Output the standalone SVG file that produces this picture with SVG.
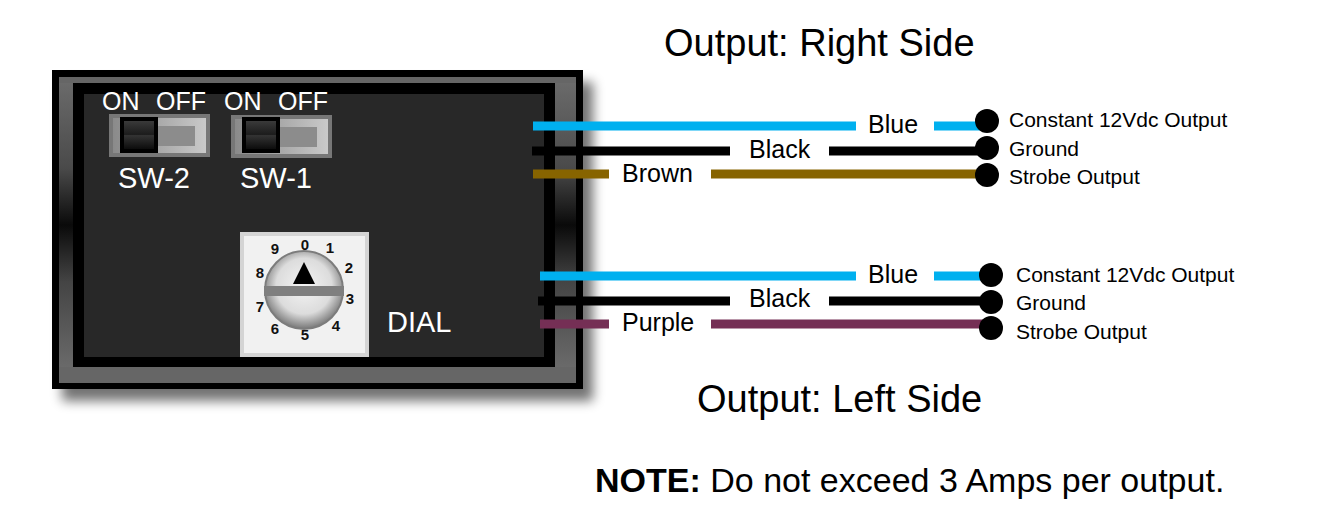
<svg xmlns="http://www.w3.org/2000/svg" width="1322" height="526" viewBox="0 0 1322 526">
<defs>
<style>
text{font-family:"Liberation Sans",Arial,sans-serif}
.w{fill:#fff}
.t{fill:#000}
.d{font-size:15px;font-weight:bold;fill:#111;text-anchor:middle}
.wire{fill:none;stroke-width:9}
</style>
<linearGradient id="ringL" x1="0" y1="0" x2="0" y2="1">
<stop offset="0" stop-color="#6a6a6a"/><stop offset=".3" stop-color="#4a4a4a"/><stop offset=".5" stop-color="#0a0a0a"/><stop offset=".7" stop-color="#444"/><stop offset="1" stop-color="#6a6a6a"/>
</linearGradient>
<linearGradient id="sw" x1="0" y1="0" x2="1" y2="0">
<stop offset="0" stop-color="#8a8a8a"/><stop offset="1" stop-color="#c9c9c9"/>
</linearGradient>
<linearGradient id="kn" x1="0" y1="0" x2="0" y2="1">
<stop offset="0" stop-color="#3a3a3a"/><stop offset=".48" stop-color="#1c1c1c"/><stop offset=".52" stop-color="#333"/><stop offset="1" stop-color="#0c0c0c"/>
</linearGradient>
<radialGradient id="ball" cx=".5" cy=".45" r=".55">
<stop offset="0" stop-color="#f4f4f4"/><stop offset=".65" stop-color="#dcdcdc"/><stop offset="1" stop-color="#777"/>
</radialGradient>
<filter id="blur" x="-10%" y="-10%" width="120%" height="120%"><feGaussianBlur stdDeviation="6"/></filter>
</defs>
<rect width="1322" height="526" fill="#fff"/>
<g id="enclosure">
<rect x="62" y="82" width="531" height="319" fill="#000" opacity=".55" filter="url(#blur)"/>
<rect x="52" y="70" width="531" height="319" fill="#000"/>
<rect x="59" y="77" width="517" height="306" fill="#666"/>
<rect x="59" y="83" width="14" height="284" fill="url(#ringL)"/>
<rect x="555" y="83" width="21" height="284" fill="url(#ringL)"/>
<rect x="73" y="83" width="482" height="284" fill="#000"/>
<rect x="84" y="94" width="460" height="263" fill="#282828"/>
</g>
<g id="sw-2">
<rect x="109" y="114" width="101" height="43" fill="#777"/>
<rect x="113" y="118" width="93" height="35" fill="url(#sw)"/>
<rect x="158" y="126" width="37" height="20" fill="#8c8c8c"/>
<rect x="120" y="117" width="38" height="36" fill="#000"/>
<rect x="124" y="121" width="30" height="28" fill="url(#kn)"/>
<text class="w" x="102" y="110" font-size="25">ON</text>
<text class="w" x="156" y="110" font-size="25">OFF</text>
<text class="w" x="118" y="188" font-size="29">SW-2</text>
</g>
<g id="sw-1">
<rect x="231" y="115" width="101" height="43" fill="#777"/>
<rect x="235" y="119" width="93" height="35" fill="url(#sw)"/>
<rect x="280" y="127" width="37" height="20" fill="#8c8c8c"/>
<rect x="242" y="117" width="38" height="36" fill="#000"/>
<rect x="246" y="121" width="30" height="28" fill="url(#kn)"/>
<text class="w" x="224" y="110" font-size="25">ON</text>
<text class="w" x="278" y="110" font-size="25">OFF</text>
<text class="w" x="240" y="188" font-size="29">SW-1</text>
</g>
<g id="dial">
<rect x="240" y="232" width="129" height="125" fill="#d4d4d4"/>
<rect x="244" y="236" width="121" height="117" fill="#f1f1f1"/>
<circle cx="304" cy="290" r="39" fill="url(#ball)" stroke="#7c7c7c" stroke-width="2"/>
<path d="M265 300A39 39 0 0 0 343 300Z" fill="none"/>
<rect x="264" y="286" width="80" height="10" fill="#7f7f7f"/>
<path d="M304 262L315 284H293Z" fill="#000"/>
<text class="d" x="305" y="250">0</text>
<text class="d" x="330" y="253">1</text>
<text class="d" x="349" y="273">2</text>
<text class="d" x="350" y="304">3</text>
<text class="d" x="336" y="331">4</text>
<text class="d" x="305" y="340">5</text>
<text class="d" x="275" y="334">6</text>
<text class="d" x="260" y="312">7</text>
<text class="d" x="260" y="278">8</text>
<text class="d" x="275" y="254">9</text>
<text class="w" x="387" y="332" font-size="29">DIAL</text>
</g>
<g id="connectors">
<path class="wire" stroke="#00b0ef" d="M533 126H856M934 126H985"/>
<path class="wire" stroke="#000" d="M532 151H730M829 151H985"/>
<path class="wire" stroke="#876400" d="M533 174H609M711 174H985"/>
<path class="wire" stroke="#00b0ef" d="M540 276H856M934 276H990"/>
<path class="wire" stroke="#000" d="M538 301H730M829 301H990"/>
<path class="wire" stroke="#752f55" d="M540 324H609M711 324H990"/>
</g>
<g id="wire-labels" font-size="25">
<text x="868" y="133" font-size="25">Blue</text>
<text x="749" y="158" font-size="25">Black</text>
<text x="622" y="182" font-size="25">Brown</text>
<text x="868" y="283" font-size="25">Blue</text>
<text x="749" y="307" font-size="25">Black</text>
<text x="622" y="331" font-size="25">Purple</text>
</g>
<g id="right-outputs">
<circle cx="987" cy="121" r="12"/><circle cx="987" cy="148" r="12"/><circle cx="987" cy="175" r="12"/>
<text x="1009" y="127" font-size="21">Constant 12Vdc Output</text>
<text x="1009" y="156" font-size="21">Ground</text>
<text x="1009" y="184" font-size="21">Strobe Output</text>
</g>
<g id="left-outputs">
<circle cx="991" cy="275" r="12"/><circle cx="991" cy="302" r="12"/><circle cx="991" cy="328" r="12"/>
<text x="1016" y="282" font-size="21">Constant 12Vdc Output</text>
<text x="1016" y="310" font-size="21">Ground</text>
<text x="1016" y="339" font-size="21">Strobe Output</text>
</g>
<text x="664" y="56" font-size="38">Output: Right Side</text>
<text x="697" y="412" font-size="38">Output: Left Side</text>
<text x="595" y="492" font-size="34"><tspan font-weight="bold">NOTE:</tspan> Do not exceed 3 Amps per output.</text>
</svg>
